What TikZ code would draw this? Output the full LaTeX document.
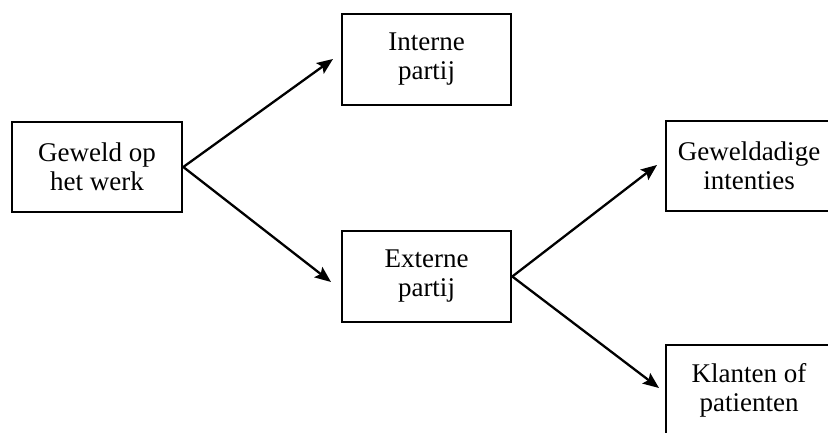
\documentclass[tikz,border=0pt]{standalone}
\usepackage{fontspec}
\setmainfont{Liberation Serif}
\usetikzlibrary{arrows.meta}
\begin{document}
\begin{tikzpicture}[x=1pt,y=1pt,
  box/.style={draw, line width=2.6pt, rectangle, align=center, inner sep=0pt,
    font=\fontsize{27}{29}\selectfont},
  conn/.style={line width=2.3pt, -{Stealth[length=16pt,width=13pt,inset=3pt]}}]
\useasboundingbox (0,0) rectangle (828,432);
\node[box, minimum width=170pt, minimum height=90pt] (b1) at (97,265) {Geweld op\\het werk};
\node[box, minimum width=169pt, minimum height=91pt] (b2) at (426.5,372.5) {Interne\\partij};
\node[box, minimum width=169pt, minimum height=91pt] (b3) at (426.5,155.5) {Externe\\partij};
\node[box, minimum width=166pt, minimum height=90pt] (b4) at (749,266) {Geweldadige\\intenties};
\node[box, minimum width=166pt, minimum height=91pt] (b5) at (749,41.5) {Klanten of\\patienten};
\coordinate (t1) at (333,373);
\coordinate (t2) at (331,150);
\coordinate (t3) at (657,267);
\coordinate (t4) at (659,44);
\draw[conn] (b1.east) -- (t1);
\draw[conn] (b1.east) -- (t2);
\draw[conn] (b3.east) -- (t3);
\draw[conn] (b3.east) -- (t4);
\end{tikzpicture}
\end{document}
